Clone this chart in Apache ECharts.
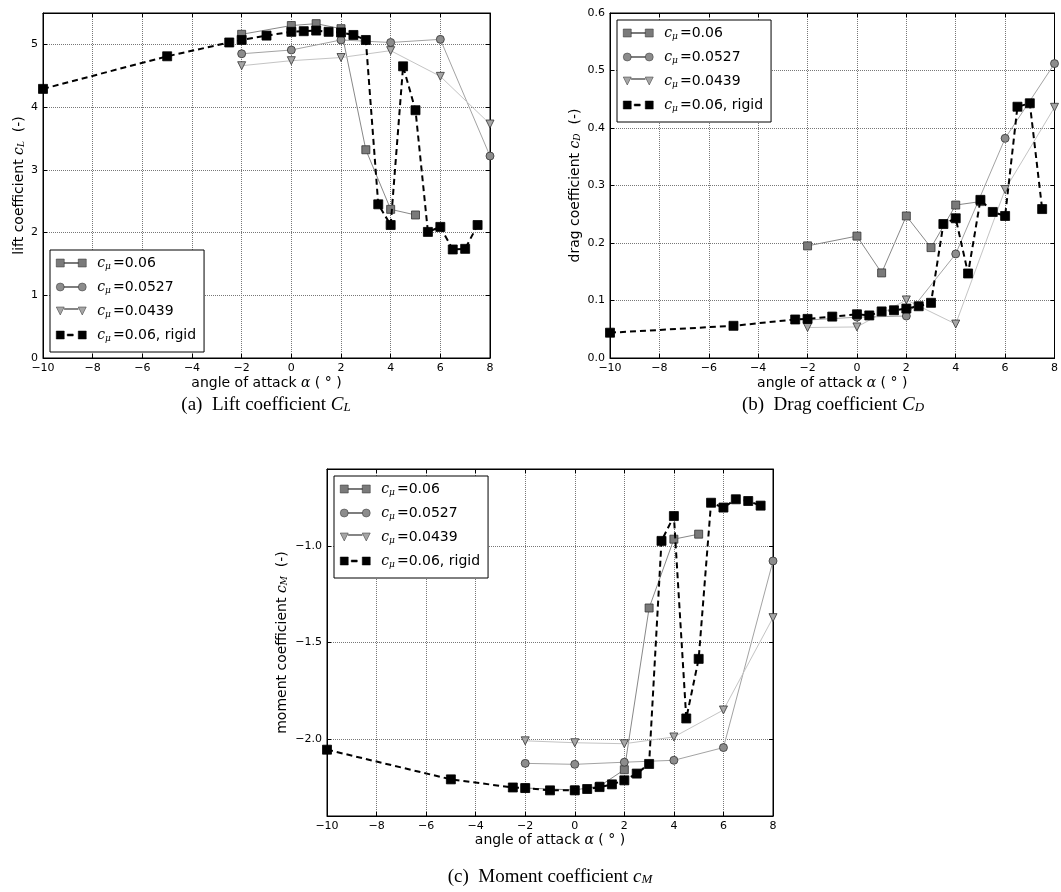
<!DOCTYPE html>
<html>
<head>
<meta charset="utf-8">
<script src="https://cdn.jsdelivr.net/npm/echarts@6/dist/echarts.min.js"></script>
<style>
  html, body { margin: 0; padding: 0; background: #fff; }
  #main { width: 1061px; height: 892px; }
</style>
</head>
<body>
<div id="main"></div>
<script>
// angles of attack (deg)
var alphaRigid = [-10, -5, -2.5, -2, -1, 0, 0.5, 1, 1.5, 2, 2.5, 3, 3.5, 4, 4.5, 5, 5.5, 6, 6.5, 7, 7.5];
var alphaFlex = [-2, 0, 1, 2, 3, 4, 5];
var alphaLow = [-2, 0, 2, 4, 6, 8];

// lift coefficient
var liftRigid = [4.29, 4.81, 5.03, 5.07, 5.14, 5.20, 5.21, 5.22, 5.20, 5.19, 5.15, 5.07, 2.45, 2.12, 4.65, 3.95, 2.01, 2.09, 1.73, 1.74, 2.12];
var lift060 = [5.16, 5.30, 5.33, 5.25, 3.32, 2.37, 2.28];
var lift0527 = [4.85, 4.91, 5.07, 5.03, 5.08, 3.22];
var lift0439 = [4.66, 4.74, 4.79, 4.90, 4.49, 3.73];

// drag coefficient
var dragRigid = [0.044, 0.056, 0.067, 0.068, 0.072, 0.076, 0.074, 0.081, 0.083, 0.086, 0.090, 0.096, 0.233, 0.243, 0.147, 0.275, 0.254, 0.247, 0.437, 0.443, 0.259];
var drag060 = [0.195, 0.212, 0.148, 0.247, 0.192, 0.266, 0.272];
var drag0527 = [0.066, 0.071, 0.073, 0.181, 0.382, 0.512];
var drag0439 = [0.053, 0.054, 0.101, 0.059, 0.293, 0.436];

// moment coefficient
var momRigid = [-2.056, -2.21, -2.252, -2.255, -2.267, -2.267, -2.26, -2.25, -2.236, -2.215, -2.18, -2.13, -0.973, -0.844, -1.894, -1.585, -0.775, -0.80, -0.757, -0.766, -0.79];
var mom060 = [-2.255, -2.265, -2.245, -2.16, -1.321, -0.964, -0.938];
var mom0527 = [-2.127, -2.132, -2.121, -2.111, -2.045, -1.077];
var mom0439 = [-2.01, -2.02, -2.025, -1.99, -1.85, -1.371];

var names = ['0.06', '0.0527', '0.0439', '0.06, rigid'];
var liftTicks = [0, 1, 2, 3, 4, 5];
var momTicks = [-2.0, -1.5, -1.0];

var sans = 'DejaVu Sans';
var serif = 'DejaVu Serif';

function pairs(xs, ys) {
    return xs.map(function (x, i) { return [x, ys[i]]; });
}
function minus(s) { return String(s).replace('-', '\u2212'); }

var mathRich = {
    i: { fontFamily: serif, fontStyle: 'italic', fontSize: 14 },
    s: { fontFamily: serif, fontStyle: 'italic', fontSize: 9, verticalAlign: 'bottom', lineHeight: 11 }
};

function xAxesFor(g, gap) {
    return [
        {
            type: 'value', gridIndex: g, min: -10, max: 8, interval: 2, position: 'bottom',
            name: 'angle of attack {i|\u03b1} ( \u00b0 )', nameLocation: 'middle', nameGap: gap,
            nameTextStyle: { fontFamily: sans, fontSize: 14, color: '#000', rich: mathRich },
            axisLine: { onZero: false, lineStyle: { color: '#000' } },
            axisTick: { inside: true, length: 4, lineStyle: { color: '#000' } },
            axisLabel: { fontFamily: sans, fontSize: 11, color: '#000', margin: 5, formatter: minus },
            splitLine: { show: true, lineStyle: { color: '#777', type: 'dotted' } }
        },
        {
            type: 'value', gridIndex: g, min: -10, max: 8, interval: 2, position: 'top',
            axisLine: { onZero: false, lineStyle: { color: '#000' } },
            axisTick: { inside: true, length: 4, lineStyle: { color: '#000' } },
            axisLabel: { show: false },
            splitLine: { show: false }
        }
    ];
}

function yAxesFor(g, opt) {
    var left = {
        type: 'value', gridIndex: g, min: opt.min, max: opt.max, position: 'left',
        name: opt.name, nameLocation: 'middle', nameGap: opt.gap,
        nameTextStyle: { fontFamily: sans, fontSize: 14, color: '#000', rich: mathRich },
        axisLine: { onZero: false, lineStyle: { color: '#000' } },
        axisTick: { inside: true, length: 4, lineStyle: { color: '#000' } },
        axisLabel: { fontFamily: sans, fontSize: 11, color: '#000', margin: 5, formatter: opt.fmt },
        splitLine: { show: true, lineStyle: { color: '#777', type: 'dotted' } }
    };
    var right = {
        type: 'value', gridIndex: g, min: opt.min, max: opt.max, position: 'right',
        axisLine: { onZero: false, lineStyle: { color: '#000' } },
        axisTick: { inside: true, length: 4, lineStyle: { color: '#000' } },
        axisLabel: { show: false },
        splitLine: { show: false }
    };
    if (opt.interval) {
        left.interval = opt.interval;
        right.interval = opt.interval;
    }
    if (opt.ticks) {
        left.axisTick.customValues = opt.ticks;
        left.axisLabel.customValues = opt.ticks;
        right.axisTick.customValues = opt.ticks;
    }
    return [left, right];
}

function seriesFor(g, flex06, flex0527, flex0439, rigid) {
    var xi = g * 2, yi = g * 2;
    return [
        {
            name: names[0], type: 'line', xAxisIndex: xi, yAxisIndex: yi,
            data: pairs(alphaFlex, flex06), symbol: 'rect', symbolSize: 8,
            itemStyle: { color: '#7a7a7a', borderColor: '#333', borderWidth: 0.8 },
            lineStyle: { color: '#888', width: 1 }, z: 2
        },
        {
            name: names[1], type: 'line', xAxisIndex: xi, yAxisIndex: yi,
            data: pairs(alphaLow, flex0527), symbol: 'circle', symbolSize: 8,
            itemStyle: { color: '#8c8c8c', borderColor: '#333', borderWidth: 0.8 },
            lineStyle: { color: '#a3a3a3', width: 1 }, z: 2
        },
        {
            name: names[2], type: 'line', xAxisIndex: xi, yAxisIndex: yi,
            data: pairs(alphaLow, flex0439), symbol: 'triangle', symbolSize: 8, symbolRotate: 180,
            itemStyle: { color: '#a6a6a6', borderColor: '#333', borderWidth: 0.8 },
            lineStyle: { color: '#c4c4c4', width: 1 }, z: 2
        },
        {
            name: names[3], type: 'line', xAxisIndex: xi, yAxisIndex: yi,
            data: pairs(alphaRigid, rigid), symbol: 'rect', symbolSize: 9,
            itemStyle: { color: '#000', borderColor: '#000', borderWidth: 0.8 },
            lineStyle: { color: '#000', width: 2, type: [6, 4] }, z: 3
        }
    ];
}

var icons = [
    'path://M0,0H8V8H0Z M8,3.6H22V4.4H8Z M22,0H30V8H22Z',
    'path://M0,4A4,4,0,1,1,8,4A4,4,0,1,1,0,4Z M8,3.6H22V4.4H8Z M22,4A4,4,0,1,1,30,4A4,4,0,1,1,22,4Z',
    'path://M0,0H8L4,8Z M8,1.6H22V2.4H8Z M22,0H30L26,8Z',
    'path://M0,0H8V8H0Z M11,3H17V5H11Z M22,0H30V8H22Z'
];

function legendAt(left, top) {
    return {
        left: left, top: top, orient: 'vertical',
        backgroundColor: '#fff', borderColor: '#000', borderWidth: 1,
        padding: [5, 8, 9, 6], itemGap: 8, itemWidth: 30, itemHeight: 8,
        selectedMode: false,
        itemStyle: { borderWidth: 0.5 },
        data: names.map(function (n, i) { return { name: n, icon: icons[i] }; }),
        formatter: function (n) { return '{c|c}{m|\u03bc}{e|=}{t|' + n + '}'; },
        textStyle: {
            fontFamily: sans, fontSize: 14, color: '#000', lineHeight: 16,
            rich: {
                c: { fontFamily: serif, fontStyle: 'italic', fontSize: 14, padding: [0, 0, 0, 6] },
                m: { fontFamily: serif, fontStyle: 'italic', fontSize: 9, verticalAlign: 'bottom', lineHeight: 10 },
                e: { fontFamily: serif, fontSize: 14, padding: [0, 0, 0, 2] },
                t: { fontFamily: sans, fontSize: 14 }
            }
        }
    };
}

// sub-figure captions
var capRich = {
    i: { fontFamily: 'Liberation Serif', fontStyle: 'italic', fontSize: 19 },
    s: { fontFamily: 'Liberation Serif', fontStyle: 'italic', fontSize: 13, verticalAlign: 'bottom', lineHeight: 14 }
};
function caption(cx, cy, txt) {
    return {
        type: 'text', x: cx, y: cy,
        style: { text: txt, fontFamily: 'Liberation Serif', fontSize: 19, fill: '#000',
            align: 'center', verticalAlign: 'middle', rich: capRich }
    };
}

var chart = echarts.init(document.getElementById('main'));

var option = {
    backgroundColor: '#fff',
    animation: false,
    grid: [
        { left: 43, top: 13, width: 447, height: 345, show: true, borderColor: '#000', borderWidth: 1 },
        { left: 610, top: 13, width: 447, height: 345, show: true, borderColor: '#000', borderWidth: 1 },
        { left: 327, top: 469, width: 446, height: 347, show: true, borderColor: '#000', borderWidth: 1 }
    ],
    xAxis: [].concat(xAxesFor(0, 18), xAxesFor(1, 18), xAxesFor(2, 17)),
    yAxis: [].concat(
        yAxesFor(0, { min: 0, max: 5.5, ticks: liftTicks, gap: 17,
            name: 'lift coefficient {i|c}{s|L}  (-)', fmt: function (v) { return String(v); } }),
        yAxesFor(1, { min: 0, max: 0.6, interval: 0.1, gap: 28,
            name: 'drag coefficient {i|c}{s|D}  (-)', fmt: function (v) { return v.toFixed(1); } }),
        yAxesFor(2, { min: -2.4, max: -0.6, ticks: momTicks, gap: 38,
            name: 'moment coefficient {i|c}{s|M}  (-)', fmt: function (v) { return minus(v.toFixed(1)); } })
    ),
    legend: [legendAt(50, 250), legendAt(617, 20), legendAt(334, 476)],
    series: [].concat(
        seriesFor(0, lift060, lift0527, lift0439, liftRigid),
        seriesFor(1, drag060, drag0527, drag0439, dragRigid),
        seriesFor(2, mom060, mom0527, mom0439, momRigid)
    ),
    graphic: [
        caption(266, 405, '(a)  Lift coefficient {i|C}{s|L}'),
        caption(833, 405, '(b)  Drag coefficient {i|C}{s|D}'),
        caption(550, 877, '(c)  Moment coefficient {i|c}{s|M}')
    ]
};

chart.setOption(option);
</script>
</body>
</html>
